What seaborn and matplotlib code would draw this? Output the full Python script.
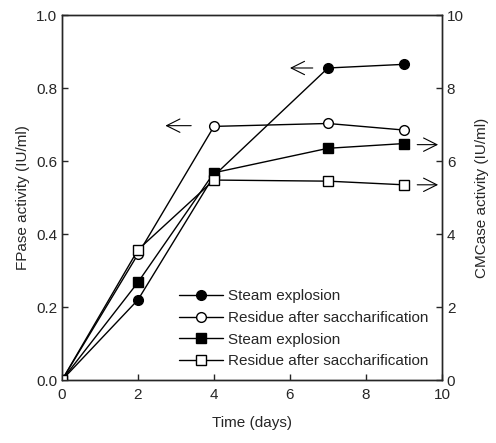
import numpy as np
import pandas as pd
import matplotlib
matplotlib.use("Agg")
import matplotlib.pyplot as plt
import seaborn as sns
from matplotlib.lines import Line2D

# données
days = [0, 2, 4, 7, 9]
fpase_steam = [0.0, 0.22, 0.56, 0.855, 0.865]
fpase_residue = [0.0, 0.345, 0.695, 0.703, 0.685]
cmcase_steam = [0.0, 2.68, 5.68, 6.35, 6.48]
cmcase_residue = [0.0, 3.57, 5.48, 5.45, 5.35]
labels = ["Steam explosion", "Residue after saccharification",
          "Steam explosion", "Residue after saccharification"]

sns.set_style("ticks")
plt.rcParams["font.family"] = ["Liberation Sans", "DejaVu Sans"]
plt.rcParams["font.size"] = 11

fig = plt.figure(figsize=(4.96, 4.43), dpi=100)
ax = fig.add_axes([0.125, 0.142, 0.766, 0.824])
ax2 = ax.twinx()

df = pd.DataFrame({"day": days, "fs": fpase_steam, "fr": fpase_residue,
                   "cs": cmcase_steam, "cr": cmcase_residue})

kw = dict(color="black", linewidth=1.0, markersize=7, markeredgecolor="black",
          markeredgewidth=1.0)
sns.lineplot(data=df, x="day", y="fs", ax=ax, marker="o", markerfacecolor="black", **kw)
sns.lineplot(data=df, x="day", y="fr", ax=ax, marker="o", markerfacecolor="white", **kw)
sns.lineplot(data=df, x="day", y="cs", ax=ax2, marker="s", markerfacecolor="black", **kw)
sns.lineplot(data=df, x="day", y="cr", ax=ax2, marker="s", markerfacecolor="white", **kw)

ax.set_xlim(0, 10)
ax.set_ylim(0, 1.0)
ax2.set_ylim(0, 10)
ax.set_xticks([0, 2, 4, 6, 8, 10])
ax.set_yticks(np.arange(0, 1.01, 0.2))
ax.set_yticklabels([f"{v:.1f}" for v in np.arange(0, 1.01, 0.2)])
ax2.set_yticks([0, 2, 4, 6, 8, 10])
ax.tick_params(axis="x", direction="in", length=4, width=1, labelsize=11, pad=6, top=False)
ax.tick_params(axis="y", direction="in", length=4, width=1, labelsize=11)
ax2.tick_params(direction="in", length=4, width=1, labelsize=11)
ax.set_xlabel("Time (days)", fontsize=11, labelpad=10)
ax.set_ylabel("FPase activity (IU/ml)", fontsize=11, labelpad=4)
ax2.set_ylabel("CMCase activity (IU/ml)", fontsize=11, labelpad=8)
for a in (ax, ax2):
    for s in a.spines.values():
        s.set_linewidth(1.0)

# flèches indiquant l'axe
arr = dict(arrowstyle="->", color="black", lw=0.8, mutation_scale=24,
           shrinkA=0, shrinkB=0)
ax.annotate("", xy=(2.72, 0.697), xytext=(3.4, 0.697), arrowprops=arr)
ax.annotate("", xy=(6.0, 0.855), xytext=(6.6, 0.855), arrowprops=arr)
ax2.annotate("", xy=(9.9, 6.45), xytext=(9.35, 6.45), arrowprops=arr, annotation_clip=False)
ax2.annotate("", xy=(9.9, 5.35), xytext=(9.35, 5.35), arrowprops=arr, annotation_clip=False)

handles = [
    Line2D([], [], marker="o", markerfacecolor="black", **kw),
    Line2D([], [], marker="o", markerfacecolor="white", **kw),
    Line2D([], [], marker="s", markerfacecolor="black", **kw),
    Line2D([], [], marker="s", markerfacecolor="white", **kw),
]
ax2.legend(handles, labels, loc="lower right", bbox_to_anchor=(1.0, -0.005),
           frameon=False, fontsize=11, handlelength=2.9, handletextpad=0.3,
           labelspacing=0.5)

fig.savefig("out.png", dpi=100)
